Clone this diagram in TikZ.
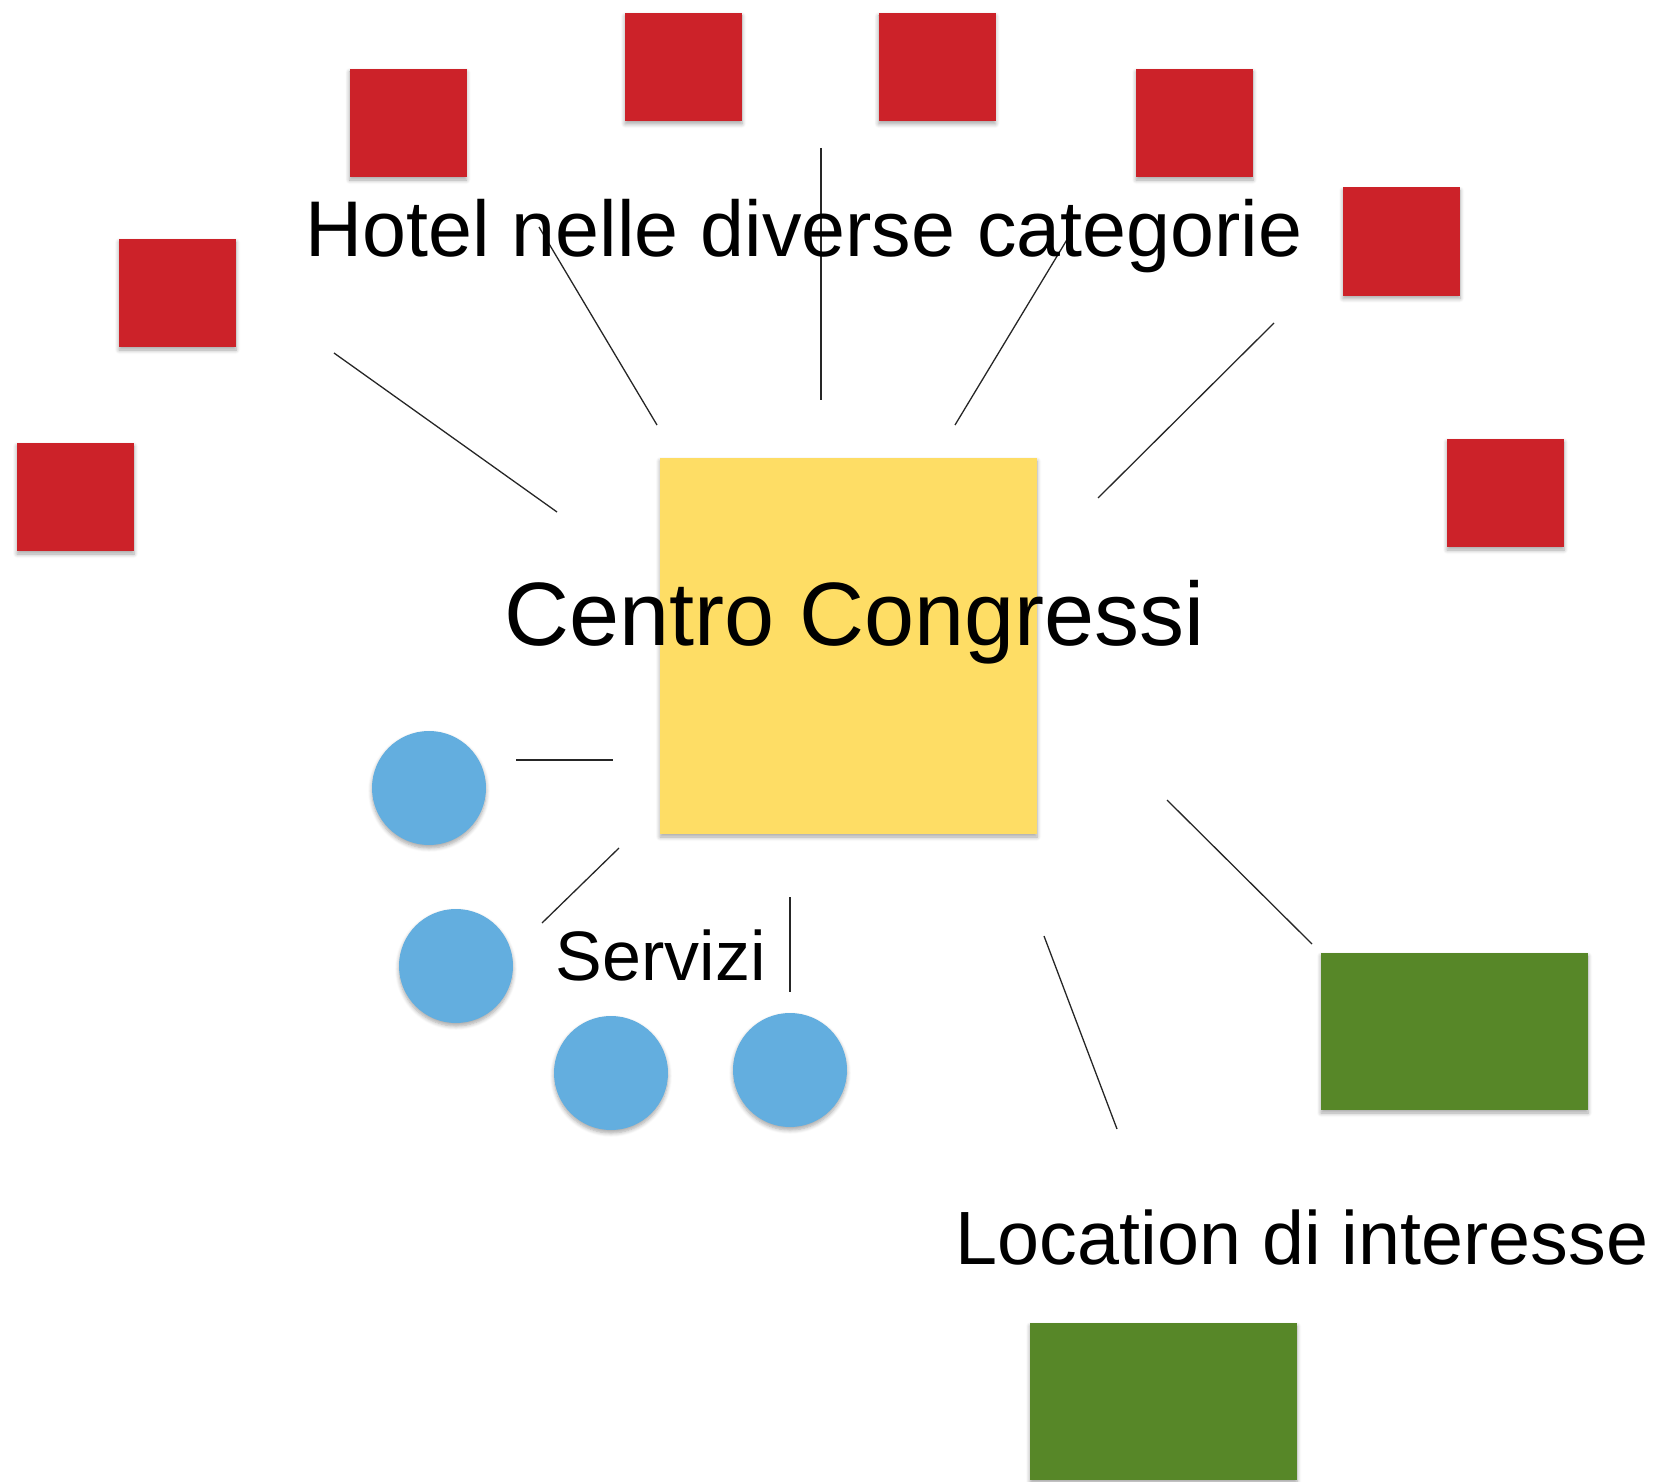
\documentclass[tikz,border=0pt]{standalone}
\usepackage{fontspec}
\setmainfont{Liberation Sans}
\usepackage{tikz}
\usetikzlibrary{shadows.blur}
\definecolor{hotelred}{HTML}{CC2229}
\definecolor{centroyellow}{HTML}{FEDD65}
\definecolor{servblue}{HTML}{63AEDF}
\definecolor{locgreen}{HTML}{578728}
\tikzset{%
  shade/.style = {blur shadow={shadow xshift=0pt,shadow yshift=-3pt,
        shadow blur radius=4pt,shadow blur steps=6,shadow opacity=35}},
  hotel/.style = {rectangle,fill=hotelred,shade,inner sep=0pt,
        minimum width=117pt,minimum height=108pt},
  centro/.style = {rectangle,fill=centroyellow,shade,inner sep=0pt,
        minimum width=377pt,minimum height=376pt},
  servizio/.style = {circle,fill=servblue,shade,inner sep=0pt,
        minimum size=114pt},
  location/.style = {rectangle,fill=locgreen,shade,inner sep=0pt,
        minimum width=267pt,minimum height=157pt},
  conn/.style = {draw=black!85,line width=1.3pt},
  lbl/.style = {anchor=base,inner sep=0pt,text=black}
}

\begin{document}
\begin{tikzpicture}[x=1pt,y=-1pt]
    \useasboundingbox (0,0) rectangle (1658,1482);
    % hotel
    \node[hotel] (h1) at (408,123) {};
    \node[hotel] (h2) at (683.5,67) {};
    \node[hotel] (h3) at (937,67) {};
    \node[hotel] (h4) at (1194.5,123) {};
    \node[hotel] (h5) at (177.5,293) {};
    \node[hotel] (h6) at (1401.5,241.5) {};
    \node[hotel] (h7) at (75.5,497) {};
    \node[hotel] (h8) at (1505.5,493) {};
    % centro
    \node[centro] (cc) at (848.5,646) {};
    % servizi
    \node[servizio] (s1) at (429,788) {};
    \node[servizio] (s2) at (456,966) {};
    \node[servizio] (s3) at (611,1073) {};
    \node[servizio] (s4) at (790,1070) {};
    % location
    \node[location] (l1) at (1454.5,1031.5) {};
    \node[location] (l2) at (1163.5,1401.5) {};
    % line ends
    \coordinate (a1) at (334,353);   \coordinate (b1) at (557,512);
    \coordinate (a2) at (539,227);   \coordinate (b2) at (657,425);
    \coordinate (a3) at (821,148);   \coordinate (b3) at (821,400);
    \coordinate (a4) at (1068,238);  \coordinate (b4) at (955,425);
    \coordinate (a5) at (1274,323);  \coordinate (b5) at (1098,498);
    \coordinate (a6) at (516,760);   \coordinate (b6) at (613,760);
    \coordinate (a7) at (619,848);   \coordinate (b7) at (542,923);
    \coordinate (a8) at (790,897);   \coordinate (b8) at (790,992);
    \coordinate (a9) at (1167,800);  \coordinate (b9) at (1312,944);
    \coordinate (a10) at (1044,936); \coordinate (b10) at (1117,1129);
    \foreach \i in {1,...,10}
        \draw[conn] (a\i) -- (b\i);
    % labels
    \node[lbl,font=\fontsize{79}{90}\selectfont] (thotel) at (804,257)
        {Hotel nelle diverse categorie};
    \node[lbl,font=\fontsize{90}{100}\selectfont] (tcentro) at (855,645)
        {Centro Congressi};
    \node[lbl,font=\fontsize{70}{80}\selectfont] (tserv) at (661,980)
        {Servizi};
    \node[lbl,font=\fontsize{75.5}{86}\selectfont] (tloc) at (1302,1264)
        {Location di interesse};
\end{tikzpicture}
\end{document}
